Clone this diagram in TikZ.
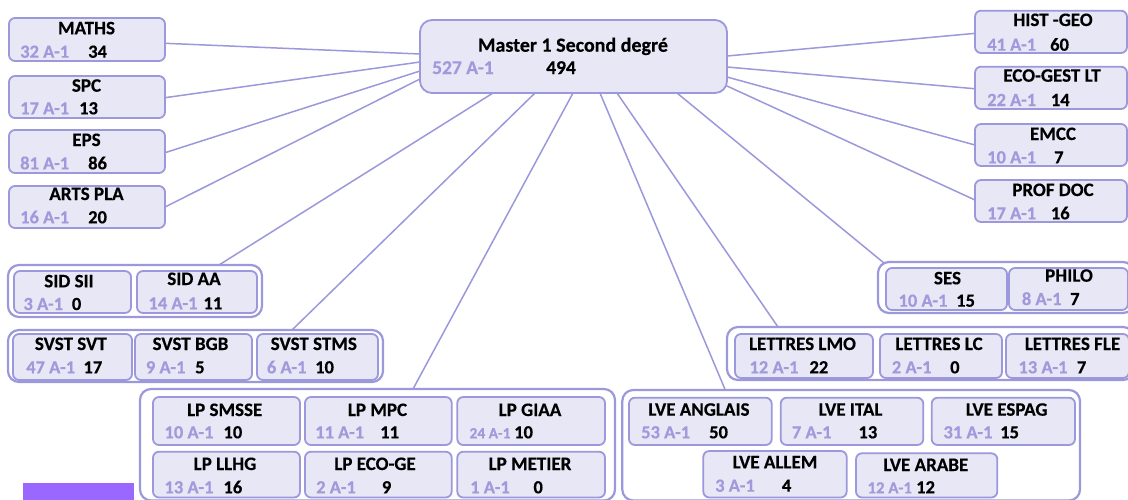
\documentclass[tikz,border=0pt]{standalone}
\usepackage{fontspec}
\setmainfont{Carlito}[BoldFeatures={FakeBold=0.4}]
\usetikzlibrary{calc}
\definecolor{boxfill}{RGB}{231,231,245}
\definecolor{boxline}{RGB}{155,152,220}
\definecolor{greytxt}{RGB}{160,154,220}
\definecolor{barfill}{RGB}{155,104,255}
\newcommand{\mybox}[6][box]{\node[#1, minimum width={#5-#3}, minimum height={#6-#4}] (#2) at ({(#3+#5)/2},{(#4+#6)/2}) {};}
\newcommand{\mytitle}[4]{\node[ttl] (#1t) at (#3,#4) {#2};}
\newcommand{\myvals}[7][]{\node[gry,#1] (#2a) at (#4,#7) {#3};\node[blk] (#2b) at (#6,#7) {#5};}
\tikzset{
  box/.style={draw=boxline, fill=boxfill, line width=1.8pt, rounded corners=6pt, inner sep=0pt, outer sep=0pt},
  grp/.style={draw=boxline, fill=white, line width=2.2pt, rounded corners=11pt, inner sep=0pt, outer sep=0pt},
  mbox/.style={box, rounded corners=12pt},
  txtfont/.style={font=\fontsize{18.5}{20}\selectfont\bfseries},
  ttl/.style={anchor=base, inner sep=0pt, font=\fontsize{19}{21}\selectfont\bfseries},
  mttl/.style={anchor=base, inner sep=0pt, font=\fontsize{20}{22}\selectfont\bfseries},
  gry/.style={txtfont, anchor=base west, inner sep=0pt, text=greytxt},
  blk/.style={txtfont, anchor=base west, inner sep=0pt, text=black},
  conn/.style={draw=boxline, line width=1.5pt},
  bar/.style={fill=barfill, draw=none, inner sep=0pt, outer sep=0pt}
}
\begin{document}
\begin{tikzpicture}[x=1pt,y=-1pt]
\useasboundingbox (0,0) rectangle (1128,499);
\clip (0,0) rectangle (1128,499);
\fill[white] (0,0) rectangle (1128,499);
% master
\mybox[mbox]{master}{420}{20}{727}{93}
\node[mttl] (mastert) at (573,51.7) {Master 1 Second degré};
\node[gry, font=\fontsize{19.5}{21}\selectfont\bfseries] (mastera) at (432,74) {527 A-1};
\node[blk, font=\fontsize{19.5}{21}\selectfont\bfseries] (masterb) at (546,74) {494};
% left column
\mybox{maths}{9}{18}{165}{61}\mytitle{maths}{MATHS}{86.5}{34.3}\myvals{maths}{32 A-1}{20}{34}{88}{57.7}
\mybox{spc}{9}{76}{165}{118}\mytitle{spc}{SPC}{86.5}{91.7}\myvals{spc}{17 A-1}{20}{13}{79}{114.3}
\mybox{eps}{9}{130}{165}{173}\mytitle{eps}{EPS}{86.5}{146}\myvals{eps}{81 A-1}{20}{86}{88}{169.3}
\mybox{arts}{9}{186}{165}{228}\mytitle{arts}{ARTS PLA}{86.5}{200}\myvals{arts}{16 A-1}{20}{20}{88}{223.3}
% right column
\mybox{hist}{975}{10.7}{1127}{53}\mytitle{hist}{HIST -GEO}{1053}{26}\myvals{hist}{41 A-1}{987}{60}{1050}{50.7}
\mybox{eco}{975}{66.7}{1127}{109}\mytitle{eco}{ECO-GEST LT}{1052}{81.7}\myvals{eco}{22 A-1}{987}{14}{1050.7}{106}
\mybox{emcc}{975}{124}{1127}{166}\mytitle{emcc}{EMCC}{1053}{140}\myvals{emcc}{10 A-1}{987}{7}{1054}{163.3}
\mybox{prof}{975}{180}{1127}{222}\mytitle{prof}{PROF DOC}{1053}{196}\myvals{prof}{17 A-1}{987}{16}{1050.7}{219.3}
% SID group
\mybox[grp]{sidg}{8}{265}{262}{317}
\mybox{sidsii}{14}{271}{131}{313}\mytitle{sidsii}{SID SII}{69}{287.3}\myvals{sidsii}{3 A-1}{23.3}{0}{71.7}{310}
\mybox{sidaa}{137}{271}{257}{313}\mytitle{sidaa}{SID AA}{194}{285}\myvals{sidaa}{14 A-1}{148.3}{11}{203.3}{309.3}
% SVST group
\mybox[grp]{svstg}{8}{330}{383}{382}
\mybox{svt}{13}{334}{132}{380}\mytitle{svt}{SVST SVT}{70.8}{350}\myvals{svt}{47 A-1}{26}{17}{83.3}{373.3}
\mybox{bgb}{135}{334}{252}{380}\mytitle{bgb}{SVST BGB}{190.5}{350}\myvals{bgb}{9 A-1}{145.7}{5}{195}{373.3}
\mybox{stms}{257}{334}{378}{380}\mytitle{stms}{SVST STMS}{313.8}{350}\myvals{stms}{6 A-1}{266.7}{10}{315}{373.3}
% SES group
\mybox[grp]{sesg}{878}{262}{1134}{313}
\mybox{ses}{886}{268}{1007}{310}\mytitle{ses}{SES}{947.5}{284.3}\myvals{ses}{10 A-1}{898.3}{15}{956}{306.7}
\mybox{philo}{1009}{268}{1128}{310}\mytitle{philo}{PHILO}{1069}{281.7}\myvals{philo}{8 A-1}{1021.7}{7}{1070}{305}
% LETTRES group
\mybox[grp]{letg}{727}{327}{1134}{380}
\mybox{lmo}{735}{334}{873}{378}\mytitle{lmo}{LETTRES LMO}{802.5}{350}\myvals{lmo}{12 A-1}{749.3}{22}{809.3}{373.3}
\mybox{lc}{880}{334}{1002}{378}\mytitle{lc}{LETTRES LC}{939}{350}\myvals{lc}{2 A-1}{891.7}{0}{950}{373.3}
\mybox{fle}{1006}{334}{1129}{378}\mytitle{fle}{LETTRES FLE}{1072.5}{350}\myvals{fle}{13 A-1}{1018.3}{7}{1076.7}{373.3}
% LP group
\mybox[grp]{lpg}{140}{389}{615}{500.5}
\mybox{smsse}{153}{397}{300}{445}\mytitle{smsse}{LP SMSSE}{224.7}{416}\myvals{smsse}{10 A-1}{164.3}{10}{223.3}{438.3}
\mybox{mpc}{305}{397}{451.7}{445}\mytitle{mpc}{LP MPC}{377.5}{416}\myvals{mpc}{11 A-1}{315}{11}{380}{438.3}
\mybox{giaa}{457.3}{397}{605}{445}\mytitle{giaa}{LP GIAA}{530}{416}\myvals[font=\fontsize{15.5}{17}\selectfont\bfseries]{giaa}{24 A-1}{469.3}{10}{514}{438.3}
\mybox{llhg}{153}{451.7}{300}{497.5}\mytitle{llhg}{LP LLHG}{225}{470}\myvals{llhg}{13 A-1}{164.3}{16}{223.3}{493.3}
\mybox{ecoge}{305}{451.7}{451.7}{497.5}\mytitle{ecoge}{LP ECO-GE}{375}{470}\myvals{ecoge}{2 A-1}{316}{9}{381.7}{493.3}
\mybox{metier}{457.3}{451.7}{605}{497.5}\mytitle{metier}{LP METIER}{530}{470}\myvals{metier}{1 A-1}{470}{0}{533.3}{493.3}
% LVE group
\mybox[grp]{lveg}{622.3}{390}{1080}{500.5}
\mybox{angl}{629}{397.7}{771.7}{445}\mytitle{angl}{LVE ANGLAIS}{699}{415.7}\myvals{angl}{53 A-1}{641}{50}{709}{438.3}
\mybox{ital}{780.7}{397.7}{923.3}{445}\mytitle{ital}{LVE ITAL}{850.5}{415.7}\myvals{ital}{7 A-1}{791.7}{13}{858.3}{438.3}
\mybox{espag}{931.7}{397.7}{1075}{445}\mytitle{espag}{LVE ESPAG}{1006.7}{415.7}\myvals{espag}{31 A-1}{943.3}{15}{1000}{438.3}
\mybox{allem}{703.3}{451}{846.7}{497.5}\mytitle{allem}{LVE ALLEM}{775}{468.3}\myvals{allem}{3 A-1}{715}{4}{781.7}{491.7}
\mybox{arabe}{856}{453.3}{997.3}{497.5}\mytitle{arabe}{LVE ARABE}{925.8}{471}\myvals[font=\fontsize{16.8}{18}\selectfont\bfseries]{arabe}{12 A-1}{867.3}{12}{916}{493.3}
% purple bar
\mybox[bar]{bar}{23}{482.7}{134}{502}
% connectors
\draw[conn] ($(maths.east)+(0,3.8)$) -- ($(master.west)+(0,-2.5)$);
\draw[conn] ($(spc.east)+(0,0.7)$) -- ($(master.west)+(0,5.5)$);
\draw[conn] ($(eps.east)+(0,1.2)$) -- ($(master.west)+(0,14.5)$);
\draw[conn] (arts.east) -- ($(master.west)+(0,22.5)$);
\draw[conn] ($(hist.west)+(0,1.5)$) -- ($(master.east)+(0,-0.5)$);
\draw[conn] ($(eco.west)+(0,0.9)$) -- ($(master.east)+(0,10.5)$);
\draw[conn] (emcc.west) -- ($(master.east)+(0,20.5)$);
\draw[conn] ($(prof.west)+(0,-1)$) -- ($(master.east)+(0,29.5)$);
\draw[conn] ($(sidg.north west)+(211,0)$) -- ($(master.south west)+(73,0)$);
\draw[conn] ($(svstg.north west)+(284,0)$) -- ($(master.south west)+(115,0)$);
\draw[conn] ($(lpg.north west)+(273,0)$) -- ($(master.south west)+(153,0)$);
\draw[conn] ($(lveg.north west)+(103,0)$) -- ($(master.south west)+(180,0)$);
\draw[conn] ($(letg.north west)+(51,0)$) -- ($(master.south west)+(197,0)$);
\draw[conn] ($(sesg.north west)+(6,1)$) -- ($(master.south west)+(257,0)$);
\end{tikzpicture}
\end{document}
